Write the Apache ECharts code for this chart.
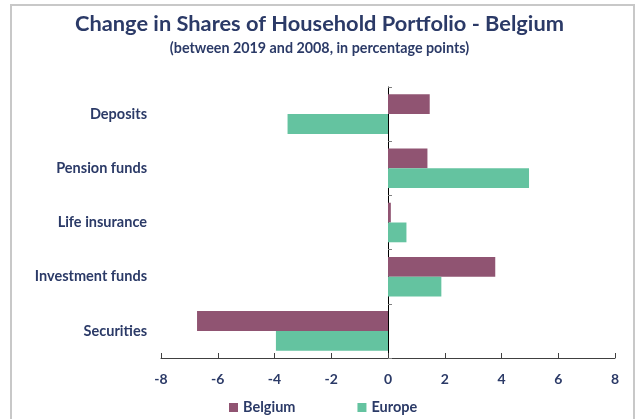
<!DOCTYPE html>
<html>
<head>
<meta charset="utf-8">
<script src="https://cdn.jsdelivr.net/npm/echarts@6/dist/echarts.min.js"></script>
<style>html,body{margin:0;padding:0;background:#fff}#c{width:639px;height:419px}</style>
</head>
<body>
<div id="c"></div>
<script>
const categories = ['Deposits', 'Pension funds', 'Life insurance', 'Investment funds', 'Securities'];
const belgium = [1.47, 1.39, 0.1, 3.78, -6.73];
const europe = [-3.54, 4.97, 0.65, 1.88, -3.95];
const xTicks = [-8, -6, -4, -2, 0, 2, 4, 6, 8];

const navy = '#2B3A67';
const font = 'Lato';
const chart = echarts.init(document.getElementById('c'));
chart.setOption({
  animation: false,
  backgroundColor: '#fff',
  graphic: [{
    type: 'polyline',
    shape: { points: [[11, 419], [11, 5], [634, 5], [634, 419]] },
    style: { stroke: '#C8C8C8', lineWidth: 2, fill: null }
  }],
  title: {
    text: 'Change in Shares of Household Portfolio - Belgium',
    subtext: '(between 2019 and 2008, in percentage points)',
    left: 'center',
    top: 8,
    itemGap: 6,
    textStyle: { fontFamily: font, fontWeight: 'bold', fontSize: 21.8, color: navy },
    subtextStyle: { fontFamily: font, fontWeight: 'bold', fontSize: 14.3, color: navy }
  },
  legend: {
    data: ['Belgium', 'Europe'],
    left: 229,
    top: 400,
    padding: 0,
    itemWidth: 9,
    itemHeight: 9,
    itemGap: 62,
    icon: 'rect',
    textStyle: { fontFamily: font, fontWeight: 'bold', fontSize: 14.5, color: navy, padding: [0, 0, 0, 0] }
  },
  grid: { left: 161, right: 24, top: 87, bottom: 61, containLabel: false },
  xAxis: {
    type: 'value',
    min: -8, max: 8, interval: 2,
    splitLine: { show: false },
    axisLine: { show: true, onZero: false, lineStyle: { color: '#404040', width: 1 } },
    axisTick: { show: true, inside: true, length: 5, lineStyle: { color: '#404040' } },
    axisLabel: { margin: 14, fontFamily: font, fontWeight: 'bold', fontSize: 14, color: navy,
      formatter: v => String(xTicks[xTicks.indexOf(v)]) }
  },
  yAxis: [{
    type: 'category',
    data: categories,
    inverse: true,
    position: 'left',
    axisLine: { show: false, onZero: false },
    axisTick: { show: false },
    axisLabel: { margin: 14, fontFamily: font, fontWeight: 'bold', fontSize: 14.5, color: navy }
  }, {
    type: 'category',
    data: categories,
    inverse: true,
    position: 'left',
    axisLine: { show: true, onZero: true, lineStyle: { color: '#000', width: 1 } },
    axisTick: { show: true, inside: true, length: 4, lineStyle: { color: '#808080' } },
    axisLabel: { show: false }
  }],
  series: [{
    name: 'Belgium', type: 'bar', yAxisIndex: 0,
    data: belgium, barGap: '0%', barCategoryGap: '27%',
    itemStyle: { color: '#905472' }
  }, {
    name: 'Europe', type: 'bar', yAxisIndex: 0,
    data: europe, barGap: '0%', barCategoryGap: '27%',
    itemStyle: { color: '#64C3A0' }
  }]
});
</script>
</body>
</html>
